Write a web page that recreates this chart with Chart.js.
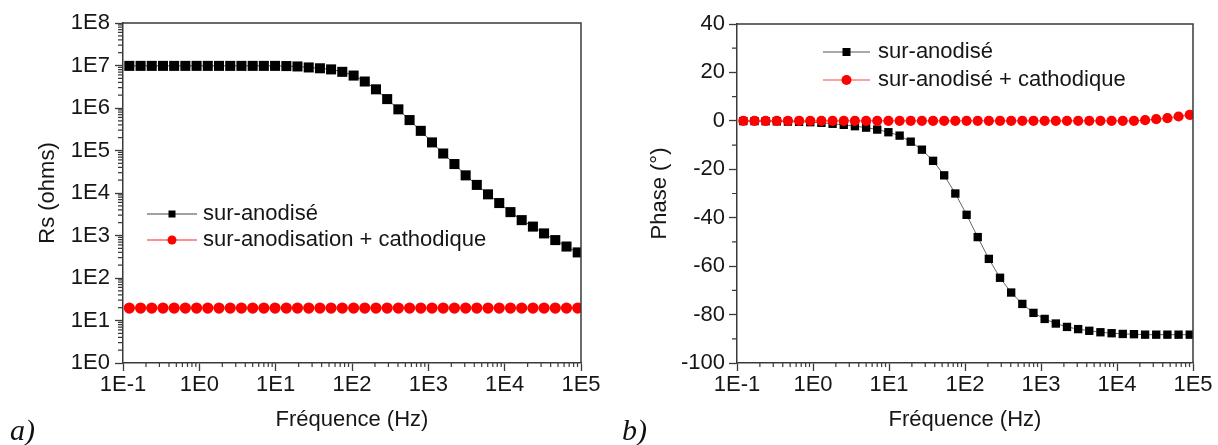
<!DOCTYPE html>
<html><head><meta charset="utf-8">
<script src="https://cdn.jsdelivr.net/npm/chart.js@4/dist/chart.umd.min.js"></script>
<style>
html,body{margin:0;padding:0;background:#fff}
body{width:1218px;height:445px;overflow:hidden;position:relative}
#wa{position:absolute;left:0;top:0;width:600px;height:445px}
#wb{position:absolute;left:600px;top:0;width:618px;height:445px}
.lab{position:absolute;font:italic 30px "Liberation Serif","DejaVu Serif",serif;line-height:30px;color:#111;white-space:nowrap}
</style></head><body>
<div id="wa"><canvas id="ca" width="600" height="445"></canvas></div>
<div id="wb"><canvas id="cb" width="618" height="445"></canvas></div>
<div class="lab" style="left:10px;top:415px">a)</div>
<div class="lab" style="left:622px;top:415px">b)</div>
<script>
// ---------- data ----------
const freqHz = [0.121, 0.170, 0.238, 0.334, 0.468, 0.656, 0.920, 1.29, 1.81, 2.54,
  3.56, 5.00, 7.00, 9.82, 13.8, 19.3, 27.1, 38.0, 53.2, 74.6,
  105, 147, 206, 289, 405, 568, 796, 1117, 1566, 2198,
  3083, 4315, 6053, 8492, 11910, 16710, 23440, 32810, 46030, 64570, 90570];

const rsSurAnodise = [9.8e6, 9.8e6, 9.8e6, 9.8e6, 9.8e6, 9.8e6, 9.8e6, 9.8e6, 9.8e6, 9.8e6,
  9.8e6, 9.8e6, 9.8e6, 9.8e6, 9.7e6, 9.5e6, 9.0e6, 8.6e6, 8.1e6, 7.1e6,
  5.8e6, 4.2e6, 2.75e6, 1.62e6, 9.3e5, 5.2e5, 2.9e5, 1.55e5, 8.5e4, 4.8e4,
  2.6e4, 1.55e4, 9.3e3, 5.8e3, 3.55e3, 2.3e3, 1.62e3, 1.12e3, 780, 550, 400];

const rsSurAnodCath = [19.6, 19.6, 19.6, 19.6, 19.6, 19.6, 19.6, 19.6, 19.6, 19.6,
  19.6, 19.6, 19.6, 19.6, 19.6, 19.6, 19.6, 19.6, 19.6, 19.6,
  19.6, 19.6, 19.6, 19.6, 19.6, 19.6, 19.6, 19.6, 19.6, 19.6,
  19.6, 19.6, 19.6, 19.6, 19.6, 19.6, 19.6, 19.6, 19.6, 19.6, 19.6];

const phaseSurAnodise = [-0.1, -0.1, -0.15, -0.2, -0.3, -0.4, -0.55, -0.8, -1.2, -1.65,
  -2.2, -2.8, -3.6, -4.7, -6.1, -8.6, -11.9, -16.5, -22.5, -30.0,
  -38.8, -48.0, -57.0, -64.8, -70.9, -75.6, -79.3, -81.8, -83.7, -85.1,
  -86.0, -86.7, -87.3, -87.7, -88.0, -88.1, -88.3, -88.3, -88.3, -88.3, -88.3];

const phaseSurAnodCath = [0, 0, 0, 0, 0, 0, 0, 0, 0, 0,
  0, 0, 0, 0, 0, 0, 0, 0, 0, 0,
  0, 0, 0, 0, 0, 0, 0, 0, 0, 0,
  0, 0, 0, 0, 0, 0, 0.3, 0.7, 1.1, 1.8, 2.5];

const freqTickValues = [0.1, 1, 10, 100, 1000, 10000, 100000];
const freqTickLabels = ['1E-1', '1E0', '1E1', '1E2', '1E3', '1E4', '1E5'];
const rsTickValues = [1, 10, 100, 1e3, 1e4, 1e5, 1e6, 1e7, 1e8];
const rsTickLabels = ['1E0', '1E1', '1E2', '1E3', '1E4', '1E5', '1E6', '1E7', '1E8'];
const phaseTickValues = [-100, -80, -60, -40, -20, 0, 20, 40];
const phaseTickLabels = ['-100', '-80', '-60', '-40', '-20', '0', '20', '40'];

const legendA = ['sur-anodisé', 'sur-anodisation + cathodique'];
const legendB = ['sur-anodisé', 'sur-anodisé + cathodique'];
const xTitle = 'Fréquence (Hz)';
const yTitleA = 'Rs (ohms)';
const yTitleB = 'Phase (°)';

// ---------- styling ----------
const FONT = "'Liberation Sans', Arial, Helvetica, sans-serif";
const TXT = '#161616';
const AXIS = '#3a3a3a';
Chart.defaults.font.family = FONT;
Chart.defaults.font.size = 22;
Chart.defaults.color = TXT;

function minorValues(major, log) {
  const out = [];
  for (let k = 0; k < major.length - 1; k++) {
    if (log) { for (let m = 2; m <= 9; m++) out.push(major[k] * m); }
    else out.push((major[k] + major[k + 1]) / 2);
  }
  return out;
}

const decor = {
  id: 'decor',
  afterDraw(chart, args, o) {
    const {ctx, chartArea: a} = chart;
    const xs = chart.scales.x, ys = chart.scales.y;
    ctx.save();
    ctx.strokeStyle = AXIS;
    ctx.lineWidth = 1.2;
    ctx.beginPath();
    o.xMinor.forEach(v => { const p = xs.getPixelForValue(v); ctx.moveTo(p, a.bottom); ctx.lineTo(p, a.bottom + 4); });
    o.yMinor.forEach(v => { const p = ys.getPixelForValue(v); ctx.moveTo(a.left, p); ctx.lineTo(a.left - 5, p); });
    ctx.stroke();
    ctx.lineWidth = 1.5;
    ctx.beginPath();
    ctx.moveTo(a.left, a.top); ctx.lineTo(a.right, a.top); ctx.lineTo(a.right, a.bottom);
    ctx.stroke();
    // legend
    const ds = chart.data.datasets;
    o.legend.forEach((r, k) => {
      const d = ds[r.ds];
      ctx.strokeStyle = r.line; ctx.lineWidth = 1;
      ctx.beginPath(); ctx.moveTo(o.lx0, r.y); ctx.lineTo(o.lx1, r.y); ctx.stroke();
      const mx = (o.lx0 + o.lx1) / 2;
      ctx.fillStyle = d.pointBackgroundColor;
      if (d.pointStyle === 'rect') ctx.fillRect(mx - r.size / 2, r.y - r.size / 2, r.size, r.size);
      else { ctx.beginPath(); ctx.arc(mx, r.y, r.size / 2, 0, 2 * Math.PI); ctx.fill(); }
      ctx.fillStyle = TXT; ctx.font = '22px ' + FONT; ctx.textBaseline = 'middle'; ctx.textAlign = 'left';
      ctx.fillText(d.label, o.tx, r.y);
    });
    ctx.restore();
  }
};

function pts(xs, ys) { return xs.map((f, i) => ({x: f, y: ys[i]})); }

function xScale() {
  return {
    type: 'logarithmic', position: 'bottom', min: 0.1, max: 1e5,
    afterBuildTicks: s => { s.ticks = freqTickValues.map(v => ({value: v})); },
    afterFit: s => { s.height = 70; s.paddingLeft = 0; s.paddingRight = 0; },
    ticks: { autoSkip: false, maxRotation: 0, padding: 1, color: TXT,
      callback: (v, i) => freqTickLabels[i] },
    grid: { drawOnChartArea: false, tickLength: 8, tickColor: AXIS, tickWidth: 1.3 },
    border: { display: true, color: AXIS, width: 1.5 },
    title: { display: true, text: xTitle, color: TXT, padding: {top: 0, bottom: 0} }
  };
}

function makeChart(id, cfg) {
  return new Chart(document.getElementById(id), {
    type: 'scatter',
    data: { datasets: cfg.datasets },
    options: {
      responsive: false, animation: false, events: [],
      layout: { padding: cfg.pad },
      plugins: { legend: {display: false}, tooltip: {enabled: false}, decor: cfg.decor },
      scales: { x: xScale(), y: cfg.y }
    },
    plugins: [decor]
  });
}

// ---------- chart a ----------
makeChart('ca', {
  pad: {left: 35, right: 19, top: 23, bottom: 12},
  datasets: [
    { label: legendA[0], data: pts(freqHz, rsSurAnodise), showLine: true,
      borderColor: '#555', borderWidth: 1, pointStyle: 'rect', pointRadius: 7.1,
      pointBackgroundColor: '#000', pointBorderColor: '#000', pointBorderWidth: 0, order: 1 },
    { label: legendA[1], data: pts(freqHz, rsSurAnodCath), showLine: true,
      borderColor: '#ff2020', borderWidth: 1, pointStyle: 'circle', pointRadius: 5.6,
      pointBackgroundColor: '#ff0000', pointBorderColor: '#ff0000', pointBorderWidth: 0, order: 0 }
  ],
  y: {
    type: 'logarithmic', min: 1, max: 1e8,
    afterBuildTicks: s => { s.ticks = rsTickValues.map(v => ({value: v})); },
    afterFit: s => { s.width = 88; s.paddingTop = 0; s.paddingBottom = 0; },
    ticks: { autoSkip: false, padding: 5, color: TXT, callback: (v, i) => rsTickLabels[i] },
    grid: { drawOnChartArea: false, tickLength: 8, tickColor: AXIS, tickWidth: 1.3 },
    border: { display: true, color: AXIS, width: 1.5 },
    title: { display: true, text: yTitleA, color: TXT, padding: {top: 0, bottom: 0} }
  },
  decor: {
    xMinor: minorValues(freqTickValues, true), yMinor: minorValues(rsTickValues, true),
    lx0: 147, lx1: 197, tx: 203,
    legend: [ {ds: 0, y: 214, size: 7, line: '#444'}, {ds: 1, y: 240, size: 9, line: '#ff2020'} ]
  }
});

// ---------- chart b ----------
makeChart('cb', {
  pad: {left: 47, right: 25, top: 24, bottom: 12},
  datasets: [
    { label: legendB[0], data: pts(freqHz, phaseSurAnodise), showLine: true,
      borderColor: '#666', borderWidth: 1, pointStyle: 'rect', pointRadius: 5.9,
      pointBackgroundColor: '#000', pointBorderColor: '#000', pointBorderWidth: 0, order: 1 },
    { label: legendB[1], data: pts(freqHz, phaseSurAnodCath), showLine: true,
      borderColor: '#ff4040', borderWidth: 1, pointStyle: 'circle', pointRadius: 5.1,
      pointBackgroundColor: '#ff0000', pointBorderColor: '#ff0000', pointBorderWidth: 0, order: 0 }
  ],
  y: {
    type: 'linear', min: -100, max: 40,
    afterBuildTicks: s => { s.ticks = phaseTickValues.map(v => ({value: v})); },
    afterFit: s => { s.width = 90; s.paddingTop = 0; s.paddingBottom = 0; },
    ticks: { autoSkip: false, padding: 4, color: TXT, callback: (v, i) => phaseTickLabels[i] },
    grid: { drawOnChartArea: false, tickLength: 8, tickColor: AXIS, tickWidth: 1.3 },
    border: { display: true, color: AXIS, width: 1.5 },
    title: { display: true, text: yTitleB, color: TXT, padding: {top: 0, bottom: 0} }
  },
  decor: {
    xMinor: minorValues(freqTickValues, true), yMinor: minorValues(phaseTickValues, false),
    lx0: 223, lx1: 270, tx: 278,
    legend: [ {ds: 0, y: 52, size: 8, line: '#555'}, {ds: 1, y: 80, size: 10, line: '#ff4040'} ]
  }
});
</script>
</body></html>
